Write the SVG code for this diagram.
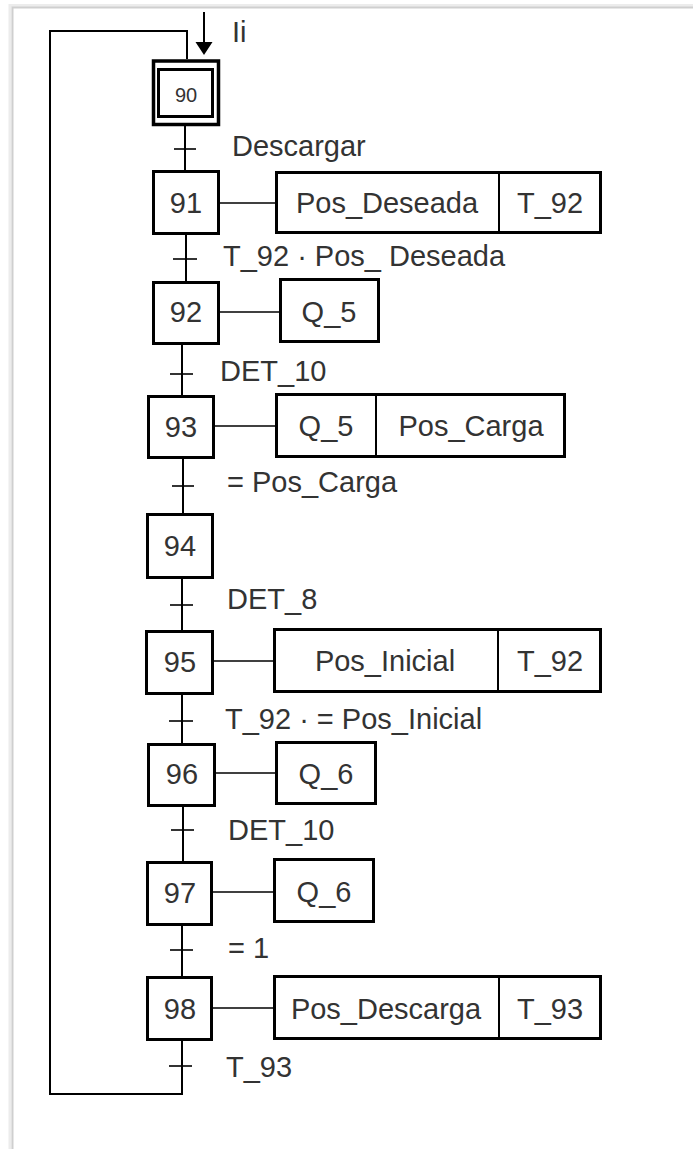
<svg xmlns="http://www.w3.org/2000/svg" width="693" height="1149" viewBox="0 0 693 1149">
<defs>
<style>
.pg{stroke:#cfcfcf;stroke-width:2;fill:none}
.pg2{stroke:#ececec;stroke-width:3;fill:none}
.st{fill:#fff;stroke:#000;stroke-width:3}
.ac{fill:#fff;stroke:#000;stroke-width:3}
.ln{stroke:#000;stroke-width:2;fill:none}
.tl{stroke:#000;stroke-width:1.6;fill:none}
text{font-family:"Liberation Sans",Arial,sans-serif;fill:#333;font-size:29px}
.n{text-anchor:middle}
</style>
</defs>
<rect width="693" height="1149" fill="#fff"/>
<g id="page">
<path class="pg2" d="M10,1149 V5.5 H693"/>
<path class="pg" d="M12.5,1149 V7.5 H693"/>
</g>
<g id="connectors">
<path class="ln" d="M182,1041 V1094 H50 V31 H187 V59"/>
<line class="ln" x1="204" y1="12" x2="204" y2="45"/>
<polygon points="195.5,42 212.5,42 204,55" fill="#000"/>
<line class="ln" x1="185" y1="126" x2="185" y2="170"/>
<line class="tl" x1="174" y1="149" x2="196" y2="149"/>
<line class="ln" x1="186" y1="235" x2="186" y2="281"/>
<line class="tl" x1="173" y1="259" x2="197" y2="259"/>
<line class="ln" x1="182" y1="345" x2="182" y2="395"/>
<line class="tl" x1="170" y1="374" x2="193" y2="374"/>
<line class="ln" x1="183" y1="459" x2="183" y2="513"/>
<line class="tl" x1="172" y1="486" x2="194" y2="486"/>
<line class="ln" x1="182" y1="579" x2="182" y2="630"/>
<line class="tl" x1="170" y1="605" x2="193" y2="605"/>
<line class="ln" x1="182" y1="695" x2="182" y2="743"/>
<line class="tl" x1="169" y1="721" x2="193" y2="721"/>
<line class="ln" x1="183" y1="807" x2="183" y2="861"/>
<line class="tl" x1="171" y1="830" x2="194" y2="830"/>
<line class="ln" x1="182" y1="926" x2="182" y2="976"/>
<line class="tl" x1="170" y1="950" x2="193" y2="950"/>
<line class="tl" x1="169" y1="1066" x2="192" y2="1066"/>
<line class="tl" x1="220" y1="203" x2="275" y2="203"/>
<line class="tl" x1="220" y1="312" x2="279" y2="312"/>
<line class="tl" x1="215" y1="426" x2="275" y2="426"/>
<line class="tl" x1="214" y1="661" x2="273" y2="661"/>
<line class="tl" x1="216" y1="773" x2="275" y2="773"/>
<line class="tl" x1="213" y1="892" x2="273" y2="892"/>
<line class="tl" x1="213" y1="1008" x2="273" y2="1008"/>
</g>
<g id="labels">
<text x="232" y="42">Ii</text>
<text x="232" y="156">Descargar</text>
<text x="223" y="266">T_92 · Pos_ Deseada</text>
<text x="220" y="381">DET_10</text>
<text x="227" y="492">= Pos_Carga</text>
<text x="227" y="609">DET_8</text>
<text x="225" y="729">T_92 · = Pos_Inicial</text>
<text x="228" y="840">DET_10</text>
<text x="228" y="958">= 1</text>
<text x="226" y="1077">T_93</text>
</g>
<g id="step90">
<rect x="153.5" y="61" width="65" height="63.5" fill="#fff" stroke="#000" stroke-width="3.5"/>
<rect x="158.5" y="69.5" width="54" height="47" fill="#fff" stroke="#000" stroke-width="3"/>
<text class="n" x="186" y="102" style="font-size:20px">90</text>
</g>
<g id="step91">
<rect class="st" x="153.5" y="171.5" width="65" height="62"/>
<text class="n" x="186" y="213">91</text>
</g>
<g id="action91">
<rect class="ac" x="276.5" y="172.5" width="324" height="60"/>
<line class="ln" x1="499" y1="172" x2="499" y2="233" stroke-width="3"/>
<text class="n" x="387" y="213">Pos_Deseada</text>
<text class="n" x="550" y="213">T_92</text>
</g>
<g id="step92">
<rect class="st" x="153.5" y="282.5" width="65" height="61"/>
<text class="n" x="186" y="322">92</text>
</g>
<g id="action92">
<rect class="ac" x="280.5" y="279.5" width="98" height="62"/>
<text class="n" x="329" y="322">Q_5</text>
</g>
<g id="step93">
<rect class="st" x="148.5" y="396.5" width="65" height="61"/>
<text class="n" x="181" y="437">93</text>
</g>
<g id="action93">
<rect class="ac" x="276.5" y="394.5" width="288" height="62"/>
<line class="ln" x1="376" y1="394" x2="376" y2="457" stroke-width="3"/>
<text class="n" x="326" y="436">Q_5</text>
<text class="n" x="471" y="436">Pos_Carga</text>
</g>
<g id="step94">
<rect class="st" x="147.5" y="514.5" width="65" height="63"/>
<text class="n" x="180" y="556">94</text>
</g>
<g id="step95">
<rect class="st" x="146.5" y="631.5" width="66" height="62"/>
<text class="n" x="180" y="672">95</text>
</g>
<g id="action95">
<rect class="ac" x="274.5" y="629.5" width="326" height="62"/>
<line class="ln" x1="498" y1="629" x2="498" y2="692" stroke-width="3"/>
<text class="n" x="385" y="671">Pos_Inicial</text>
<text class="n" x="550" y="671">T_92</text>
</g>
<g id="step96">
<rect class="st" x="148.5" y="744.5" width="66" height="61"/>
<text class="n" x="182" y="784">96</text>
</g>
<g id="action96">
<rect class="ac" x="276.5" y="742.5" width="99" height="61"/>
<text class="n" x="326" y="784">Q_6</text>
</g>
<g id="step97">
<rect class="st" x="147.5" y="862.5" width="64" height="62"/>
<text class="n" x="180" y="903">97</text>
</g>
<g id="action97">
<rect class="ac" x="274.5" y="859.5" width="99" height="62"/>
<text class="n" x="324" y="902">Q_6</text>
</g>
<g id="step98">
<rect class="st" x="147.5" y="977.5" width="64" height="62"/>
<text class="n" x="180" y="1019">98</text>
</g>
<g id="action98">
<rect class="ac" x="274.5" y="976.5" width="326" height="62"/>
<line class="ln" x1="499" y1="976" x2="499" y2="1039" stroke-width="3"/>
<text class="n" x="386" y="1019">Pos_Descarga</text>
<text class="n" x="550" y="1019">T_93</text>
</g>
</svg>
